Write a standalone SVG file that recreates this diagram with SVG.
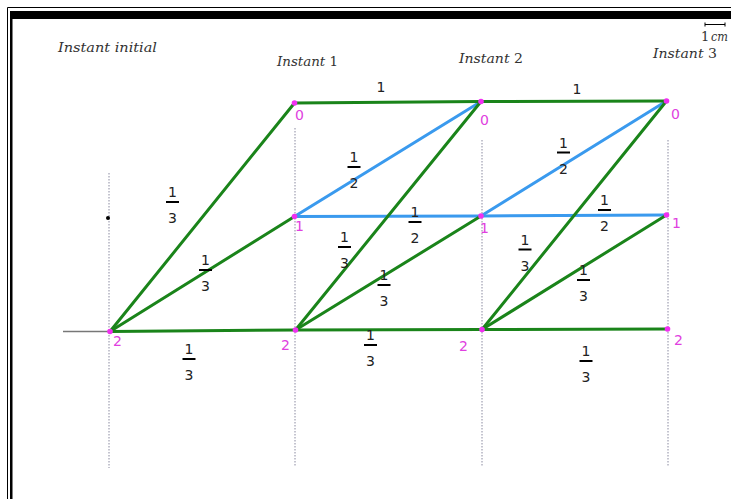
<svg xmlns="http://www.w3.org/2000/svg" width="731" height="499" viewBox="0 0 731 499">
<style>
.g{stroke:#1a841a;stroke-width:3;fill:none;stroke-linecap:round}
.b{stroke:#3a9aee;stroke-width:3;fill:none;stroke-linecap:round}
.v{stroke:#8a8aa0;stroke-width:1;stroke-dasharray:1.5 1.5;fill:none}
.pt{fill:#f030f0}
.nl{font-family:"DejaVu Sans","Liberation Sans",sans-serif;font-size:14px;fill:#e040e0}
.num{font-family:"DejaVu Sans","Liberation Sans",sans-serif;font-size:14px;fill:#222;text-anchor:middle}
.bar{stroke:#000;stroke-width:2}
.t{font-family:"DejaVu Serif","Liberation Serif",serif;font-style:italic;font-size:13px;fill:#333}
</style>
<rect width="731" height="499" fill="#fff"/>
<g id="frame">
<path d="M7.5 499 V7.5 H731" stroke="#000" stroke-width="1" fill="none"/>
<rect x="10" y="11" width="721" height="8" fill="#000"/>
<rect x="10" y="11" width="2.5" height="488" fill="#000"/>
</g>
<g id="titles">
<text class="t" x="58" y="52" textLength="99" lengthAdjust="spacingAndGlyphs">Instant initial</text>
<text class="t" x="277" y="66" textLength="61" lengthAdjust="spacingAndGlyphs">Instant <tspan style="font-style:normal">1</tspan></text>
<text class="t" x="459" y="63" textLength="64" lengthAdjust="spacingAndGlyphs">Instant <tspan style="font-style:normal">2</tspan></text>
<text class="t" x="653" y="58" textLength="64" lengthAdjust="spacingAndGlyphs">Instant <tspan style="font-style:normal">3</tspan></text>
<g id="scale">
<path d="M705 24.5 H725 M705 22.5 V26.5 M725 22.5 V26.5" stroke="#000" stroke-width="1" fill="none"/>
<text class="t" x="701" y="41" style="font-style:normal">1</text>
<text class="t" x="711" y="41" textLength="17" lengthAdjust="spacingAndGlyphs">cm</text>
</g>
</g>
<g id="guides">
<line class="v" x1="109" y1="173" x2="109" y2="468"/>
<line class="v" x1="295" y1="128" x2="295" y2="467"/>
<line class="v" x1="482" y1="140" x2="482" y2="467"/>
<line class="v" x1="668" y1="140" x2="668" y2="466"/>
<line x1="63" y1="331.5" x2="110" y2="331.5" stroke="#777" stroke-width="1.5"/>
<circle cx="108" cy="218" r="2" fill="#000"/>
</g>
<g id="connectors">
<line class="b" x1="294.5" y1="216.5" x2="481" y2="101.5"/>
<line class="b" x1="294.5" y1="216.5" x2="481" y2="216"/>
<line class="b" x1="481" y1="216" x2="666.5" y2="101"/>
<line class="b" x1="481" y1="216" x2="666.5" y2="215"/>
<line class="g" x1="294.5" y1="103" x2="481" y2="101.5"/>
<line class="g" x1="481" y1="101.5" x2="666.5" y2="101"/>
<line class="g" x1="110" y1="331.5" x2="294.5" y2="103"/>
<line class="g" x1="110" y1="331.5" x2="294.5" y2="216.5"/>
<line class="g" x1="110" y1="331.5" x2="295.5" y2="330"/>
<line class="g" x1="295.5" y1="330" x2="481" y2="101.5"/>
<line class="g" x1="295.5" y1="330" x2="481" y2="216"/>
<line class="g" x1="295.5" y1="330" x2="482" y2="329.5"/>
<line class="g" x1="482" y1="329.5" x2="666.5" y2="101"/>
<line class="g" x1="482" y1="329.5" x2="666.5" y2="215"/>
<line class="g" x1="482" y1="329.5" x2="667.5" y2="329"/>
</g>
<g id="edge-labels">
<text class="num" x="381" y="92">1</text>
<text class="num" x="577" y="94">1</text>
<g transform="translate(172.5,202)"><text class="num" y="-5">1</text><line class="bar" x1="-6.5" x2="6.5"/><text class="num" y="21">3</text></g>
<g transform="translate(205.5,270)"><text class="num" y="-5">1</text><line class="bar" x1="-6.5" x2="6.5"/><text class="num" y="21">3</text></g>
<g transform="translate(189,359)"><text class="num" y="-5">1</text><line class="bar" x1="-6.5" x2="6.5"/><text class="num" y="21">3</text></g>
<g transform="translate(354,167)"><text class="num" y="-5">1</text><line class="bar" x1="-6.5" x2="6.5"/><text class="num" y="21">2</text></g>
<g transform="translate(415,222)"><text class="num" y="-5">1</text><line class="bar" x1="-6.5" x2="6.5"/><text class="num" y="21">2</text></g>
<g transform="translate(344.5,247)"><text class="num" y="-5">1</text><line class="bar" x1="-6.5" x2="6.5"/><text class="num" y="21">3</text></g>
<g transform="translate(384,285)"><text class="num" y="-5">1</text><line class="bar" x1="-6.5" x2="6.5"/><text class="num" y="21">3</text></g>
<g transform="translate(370.5,345)"><text class="num" y="-5">1</text><line class="bar" x1="-6.5" x2="6.5"/><text class="num" y="21">3</text></g>
<g transform="translate(563.5,152.5)"><text class="num" y="-5">1</text><line class="bar" x1="-6.5" x2="6.5"/><text class="num" y="21">2</text></g>
<g transform="translate(604.5,210)"><text class="num" y="-5">1</text><line class="bar" x1="-6.5" x2="6.5"/><text class="num" y="21">2</text></g>
<g transform="translate(525,249.5)"><text class="num" y="-5">1</text><line class="bar" x1="-6.5" x2="6.5"/><text class="num" y="21">3</text></g>
<g transform="translate(583.5,280)"><text class="num" y="-5">1</text><line class="bar" x1="-6.5" x2="6.5"/><text class="num" y="21">3</text></g>
<g transform="translate(586,361)"><text class="num" y="-5">1</text><line class="bar" x1="-6.5" x2="6.5"/><text class="num" y="21">3</text></g>
</g>
<g id="n-init-2"><circle class="pt" cx="110" cy="331.5" r="2.8"/><text class="nl" x="113" y="346">2</text></g>
<g id="n-1-0"><circle class="pt" cx="294.5" cy="103" r="2.8"/><text class="nl" x="295" y="120">0</text></g>
<g id="n-1-1"><circle class="pt" cx="294.5" cy="216.5" r="2.8"/><text class="nl" x="295" y="231">1</text></g>
<g id="n-1-2"><circle class="pt" cx="295.5" cy="330" r="2.8"/><text class="nl" x="281" y="350">2</text></g>
<g id="n-2-0"><circle class="pt" cx="481" cy="101.5" r="2.8"/><text class="nl" x="480" y="125">0</text></g>
<g id="n-2-1"><circle class="pt" cx="481" cy="216" r="2.8"/><text class="nl" x="480" y="233">1</text></g>
<g id="n-2-2"><circle class="pt" cx="482" cy="329.5" r="2.8"/><text class="nl" x="459" y="351">2</text></g>
<g id="n-3-0"><circle class="pt" cx="666.5" cy="101" r="2.8"/><text class="nl" x="671" y="119">0</text></g>
<g id="n-3-1"><circle class="pt" cx="666.5" cy="215" r="2.8"/><text class="nl" x="672" y="228">1</text></g>
<g id="n-3-2"><circle class="pt" cx="667.5" cy="329" r="2.8"/><text class="nl" x="674" y="345">2</text></g>
</svg>
